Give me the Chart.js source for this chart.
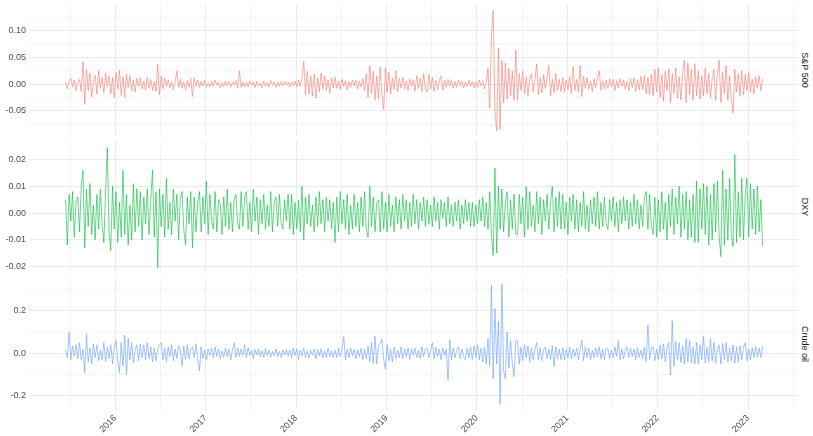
<!DOCTYPE html>
<html>
<head>
<meta charset="utf-8">
<script src="https://cdn.jsdelivr.net/npm/chart.js@4"></script>
<style>
  html, body { margin: 0; padding: 0; background: #fff; }
  #wrap { position: relative; width: 813px; height: 436px; overflow: hidden; }
  canvas { position: absolute; left: 0; }
  .strip {
    position: absolute; left: 805px;
    font: 9px "Liberation Sans", Arial, sans-serif; color: #1a1a1a;
    white-space: nowrap;
    transform: translate(-50%, -50%) rotate(90deg);
  }
</style>
</head>
<body>
<div id="wrap">
  <canvas id="spChart" width="798" height="132" style="top:4px"></canvas>
  <canvas id="dxyChart" width="798" height="132" style="top:141px"></canvas>
  <canvas id="crudeChart" width="798" height="158" style="top:278px"></canvas>
  <div class="strip" style="top:70px">S&amp;P 500</div>
  <div class="strip" style="top:207px">DXY</div>
  <div class="strip" style="top:344px">Crude oil</div>
</div>
<script>
// sampling grid: one value a week, from mid-2015 to early 2023
const startYear = 2015.45;
const stepYears = 1 / 52;

const yearTicks = [2015.5, 2016, 2016.5, 2017, 2017.5, 2018, 2018.5, 2019, 2019.5,
  2020, 2020.5, 2021, 2021.5, 2022, 2022.5, 2023, 2023.5];

// returns, one row per half-year
const spValues = [
  .004,-.009,.006,.011,-.005,.008,-.012,.003,.009,-.014,.042,-.038,.028,-.012,.021,-.024,.006,.017,-.019,.025,-.008,.013,-.016,.02,-.004,.015,
  -.018,.012,-.025,.022,-.009,.026,-.021,.014,-.024,.019,-.006,.016,-.013,.008,-.015,.011,-.004,.012,-.009,.006,-.011,.013,-.007,.009,-.012,.005,
  -.014,.037,-.02,.015,-.009,.011,-.004,.008,-.007,.005,-.01,.003,.025,-.006,.009,-.008,.004,-.011,.007,-.005,.01,-.023,.012,-.004,.008,-.006,
  .005,-.003,.007,-.006,.002,-.005,.006,-.004,.008,-.002,.004,-.007,.003,-.005,.006,-.003,.005,-.006,.004,-.002,.007,-.008,.025,-.006,.004,-.005,
  .003,-.005,.006,-.002,.004,-.006,.005,-.003,.002,-.007,.006,-.004,.003,-.005,.007,-.002,.004,-.006,.003,-.004,.005,-.003,.006,-.002,.004,-.005,
  .004,-.003,.006,-.005,.008,-.004,.012,.043,-.02,.024,-.018,.015,-.022,.019,-.026,.012,-.014,.021,-.009,.016,-.012,.008,-.017,.011,-.007,.013,
  -.008,.006,-.01,.009,-.004,.007,-.011,.005,-.006,.008,-.003,.007,-.009,.006,-.005,.01,-.012,.02,-.025,.035,-.018,.024,-.03,.015,-.028,.033,
  -.02,-.048,.03,-.015,.022,-.018,.012,-.01,.025,-.014,.011,-.007,.013,-.009,.006,-.012,.01,-.005,.008,-.013,.016,-.008,.011,-.014,.02,-.01,
  -.015,.018,-.009,.012,-.013,.007,-.01,.006,.015,-.011,.008,-.006,.009,-.004,.007,-.008,.005,-.006,.008,-.003,.006,-.007,.004,-.005,.007,-.004,
  .005,-.007,.004,-.006,.008,-.003,.006,-.009,.004,.03,-.045,.09,.138,-.05,-.088,.068,-.085,.045,-.035,.04,-.028,.03,-.022,.025,-.03,.064,
  -.03,.02,-.012,.025,-.018,.014,-.022,.01,.019,-.015,.008,.038,-.02,.012,-.016,.018,-.008,.014,.035,-.022,.01,-.016,.02,-.011,.009,-.014,
  .012,-.015,.008,-.01,.014,-.018,.033,-.012,.009,-.014,.035,-.023,.015,-.008,.012,-.01,.006,-.014,.01,-.007,.012,.025,-.011,.006,-.009,.008,
  -.008,.01,-.005,.009,-.012,.006,-.007,.011,-.004,.008,-.009,.005,-.012,.01,-.006,.012,-.014,.008,-.011,.015,-.01,.016,-.018,.012,-.02,.018,
  -.022,.028,-.015,.03,-.025,.018,-.032,.024,-.012,.028,-.035,.02,-.018,.03,-.026,.014,-.03,.022,.045,-.035,.04,-.02,.028,-.03,.038,-.022,
  .025,-.028,.015,-.022,.03,-.018,.02,-.025,.012,.028,-.03,.02,.045,-.035,.022,-.018,.035,-.03,.015,-.025,-.054,.028,-.015,.02,-.022,.025,
  -.02,.018,-.012,.022,-.015,.01,-.018,.014,-.008,.016,-.012,.01
];

const dxyValues = [
  .005,-.012,.007,-.003,.008,-.009,.004,.006,-.007,.01,.016,-.013,.009,-.005,.011,-.008,.003,-.01,.007,-.006,.009,-.004,-.011,.008,.0245,-.007,
  -.014,.01,-.006,.008,-.011,.004,-.009,.016,-.008,.007,-.012,.003,-.01,.011,-.007,.009,-.005,.008,-.01,.006,-.004,.009,-.008,.005,.016,-.009,
  .008,-.0205,.009,-.005,.007,-.009,.013,-.006,.004,-.008,.009,-.003,.007,-.01,.005,.008,-.006,-.012,.006,-.004,.008,-.013,.006,-.007,.004,.008,
  -.007,.006,-.004,.012,-.008,.007,-.003,-.006,.008,-.007,.005,.003,-.008,.006,-.005,.009,-.006,.004,-.007,.005,.007,-.004,-.006,.008,-.005,.006,
  .008,-.006,.004,-.007,.009,-.003,.006,-.008,.005,-.004,.007,-.006,.003,-.005,.008,-.007,.004,.006,-.005,.007,-.004,-.006,.005,-.003,.007,-.006,
  .007,-.008,.004,-.006,.005,-.007,.01,-.01,.006,-.004,.007,-.005,.003,-.007,.006,-.005,.008,-.004,.005,-.007,.006,-.003,.005,-.006,.004,-.011,
  .006,-.007,.008,-.004,.005,-.006,.007,-.008,.003,-.006,.007,-.005,.004,-.007,.006,-.005,.008,-.006,-.009,.01,-.005,.006,-.007,.004,.005,-.007,
  .008,-.006,.004,-.007,.007,-.005,.003,-.007,.006,-.004,.005,-.006,.007,-.003,.005,-.006,.004,-.005,.007,-.004,.005,-.006,.004,-.003,.006,-.005,
  .005,-.004,.003,-.005,.006,-.003,.004,-.006,.005,-.002,.004,-.005,.006,-.004,.003,-.005,.004,-.003,.005,-.006,.003,-.004,.005,-.003,.004,-.005,
  .004,-.005,.003,-.004,.005,-.003,.006,-.005,.004,-.006,.008,-.008,-.0158,.0167,-.015,.01,-.006,.009,-.007,.004,.008,-.009,.005,-.006,.007,-.008,
  -.008,.007,-.004,.006,-.009,.01,-.006,.008,-.005,.003,-.007,.008,-.004,.006,-.008,.005,-.003,.007,-.006,.004,.01,-.007,.006,-.005,.008,-.006,
  .007,-.006,.004,-.008,.006,-.003,.007,-.006,.005,-.007,.004,-.005,.008,-.006,.003,-.007,.005,-.004,.006,-.005,.008,-.006,.004,-.005,.006,-.004,
  -.006,.005,-.003,.006,-.005,.004,-.007,.005,-.004,.006,-.003,.005,-.006,.004,-.005,.007,-.004,.005,-.006,.003,-.005,.006,.008,-.006,.007,-.005,
  -.008,.006,-.009,.005,-.007,.008,-.006,.004,-.01,.007,-.005,.009,-.008,.006,-.004,.01,-.009,.007,-.006,.008,-.01,.005,-.009,.007,-.011,.012,
  -.011,.009,-.006,.011,-.008,.01,-.012,.007,-.01,.011,-.007,.012,-.009,-.0163,.016,-.012,.009,-.01,.013,-.008,-.0125,.0219,-.011,.008,-.009,.013,
  -.01,.007,.013,-.009,.011,-.006,.009,-.008,.01,-.007,.005,-.0125
];

const crudeValues = [
  .015,-.02,.098,-.03,.035,-.015,.04,-.025,.05,-.03,.02,-.091,.09,-.04,.025,-.05,.045,-.02,.04,-.035,.015,-.03,.05,-.04,.03,-.025,
  .04,-.05,.03,.06,-.04,-.09,.05,-.06,.085,-.099,.07,-.03,.05,-.045,.02,.04,-.035,.045,-.02,.04,-.03,.05,-.025,.03,-.04,.025,
  -.035,.02,.04,.05,-.03,.025,-.04,.03,-.015,.04,-.035,.02,-.025,.035,.015,-.06,.035,-.03,.04,-.025,.02,.03,-.02,.045,-.03,-.082,
  .03,-.025,.015,-.03,.02,-.01,.025,-.02,.03,-.015,.02,-.025,.01,-.02,.025,-.015,.02,-.03,.015,.05,-.02,.025,-.015,.02,-.01,.04,
  -.02,.025,-.01,.015,-.025,.018,-.008,.02,-.015,.012,-.02,.022,-.01,.015,-.018,.008,-.012,.02,-.015,.01,-.02,.015,-.008,.018,-.012,.015,
  -.02,.025,-.01,.02,-.03,.015,-.012,.025,-.02,.01,-.022,.015,-.008,.02,-.025,.018,-.012,.022,-.02,.01,-.018,.025,-.015,.012,-.02,.015,
  -.02,.025,-.015,.02,.078,-.03,.02,-.02,.025,-.012,.02,-.025,.015,-.018,.025,-.03,.02,-.025,.035,-.04,.05,-.045,.08,-.05,.035,.045,
  .065,-.03,-.074,.04,-.035,.02,-.04,.03,-.025,.015,-.02,.03,-.025,.02,-.015,.025,-.03,.02,-.01,.025,-.02,.015,-.025,.03,-.015,.02,
  .025,-.02,.015,.05,-.025,.03,-.015,.02,-.03,.025,-.01,.02,-.125,.063,-.03,.025,-.02,.015,.03,-.025,.02,-.015,-.03,.025,-.02,.03,
  -.03,.035,-.02,.04,-.03,.025,-.04,.03,-.05,.07,-.06,.32,-.12,.21,-.05,.15,-.24,.324,-.08,-.12,.1,-.07,.06,-.05,-.11,.06,
  .06,-.05,.03,-.035,.04,-.02,.035,-.04,.025,-.03,.02,.05,-.03,.025,-.035,.015,.03,-.025,.02,-.03,.035,-.06,.03,-.025,.02,-.03,
  .025,-.03,.015,-.02,.03,-.025,.02,-.015,.025,-.03,.02,.06,-.035,.03,-.02,.025,-.03,.015,-.02,.025,-.015,.03,-.025,.02,-.03,.025,
  .02,-.025,.015,-.02,.03,-.015,.06,-.03,.02,-.025,.015,.03,-.02,.025,-.015,.02,-.03,.025,-.02,.015,-.025,.03,-.04,.133,-.03,.025,
  .03,-.035,.02,-.03,.04,-.025,.045,-.04,.03,.05,-.102,.153,-.06,.055,-.03,.05,-.045,.035,-.05,.07,-.04,.06,-.045,.03,-.05,.05,
  -.05,.04,-.03,.08,-.045,.03,-.04,.07,-.035,.05,-.045,.02,.04,-.05,.045,-.03,.05,-.04,.025,-.035,.04,-.045,.03,-.04,.035,-.03,
  .03,.05,-.035,.02,-.03,.025,-.02,.03,-.015,.025,-.02,.035
];

// y gridlines: all ticks get a line, only the majors get a label
const spTicks = [-0.075, -0.05, -0.025, 0, 0.025, 0.05, 0.075, 0.1, 0.125];
const spMajor = [-0.05, 0, 0.05, 0.1];
const dxyTicks = [-0.02, -0.015, -0.01, -0.005, 0, 0.005, 0.01, 0.015, 0.02, 0.025];
const dxyMajor = [-0.02, -0.01, 0, 0.01, 0.02];
const crudeTicks = [-0.2, -0.1, 0, 0.1, 0.2, 0.3];
const crudeMajor = [-0.2, 0, 0.2];

Chart.defaults.font.family = '"Liberation Sans", Arial, sans-serif';
Chart.defaults.font.size = 9;
Chart.defaults.color = '#4d4d4d';

function isMajor(list, v) {
  return list.some(m => Math.abs(m - v) < 1e-9);
}

function makePanel(id, values, color, yMin, yMax, ticks, major, digits, showX) {
  const points = values.map((v, i) => ({ x: startYear + i * stepYears, y: v }));
  new Chart(document.getElementById(id), {
    type: 'line',
    data: {
      datasets: [{
        data: points,
        borderColor: color,
        borderWidth: 0.6,
        pointRadius: 0,
        tension: 0
      }]
    },
    options: {
      responsive: false,
      animation: false,
      events: [],
      layout: { padding: 0 },
      plugins: { legend: { display: false }, tooltip: { enabled: false } },
      scales: {
        x: {
          type: 'linear',
          min: 2015.045,
          max: 2023.553,
          border: { display: false },
          grid: {
            drawTicks: false,
            color: c => Number.isInteger(c.tick.value) ? '#ebebeb' : '#f3f3f3'
          },
          ticks: {
            display: showX,
            autoSkip: false,
            minRotation: 45,
            maxRotation: 45,
            padding: 3,
            callback: v => Number.isInteger(v) ? String(v) : ''
          },
          afterBuildTicks: s => { s.ticks = yearTicks.map(v => ({ value: v })); },
          afterFit: s => {
            s.height = showX ? 26 : 0;
            s.paddingLeft = 0; s.paddingRight = 0;
          }
        },
        y: {
          min: yMin,
          max: yMax,
          border: { display: false },
          grid: {
            drawTicks: false,
            color: c => isMajor(major, c.tick.value) ? '#ebebeb' : '#f3f3f3'
          },
          ticks: {
            padding: 3,
            callback: v => isMajor(major, v) ? v.toFixed(digits) : ''
          },
          afterBuildTicks: s => { s.ticks = ticks.map(v => ({ value: v })); },
          afterFit: s => {
            s.width = 29;
            s.paddingTop = 0; s.paddingBottom = 0;
          }
        }
      }
    }
  });
}

makePanel('spChart', spValues, '#F8766D', -0.097, 0.150, spTicks, spMajor, 2, false);
makePanel('dxyChart', dxyValues, '#00BA38', -0.0224, 0.0269, dxyTicks, dxyMajor, 2, false);
makePanel('crudeChart', crudeValues, '#619CFF', -0.266, 0.3535, crudeTicks, crudeMajor, 1, true);
</script>
</body>
</html>
